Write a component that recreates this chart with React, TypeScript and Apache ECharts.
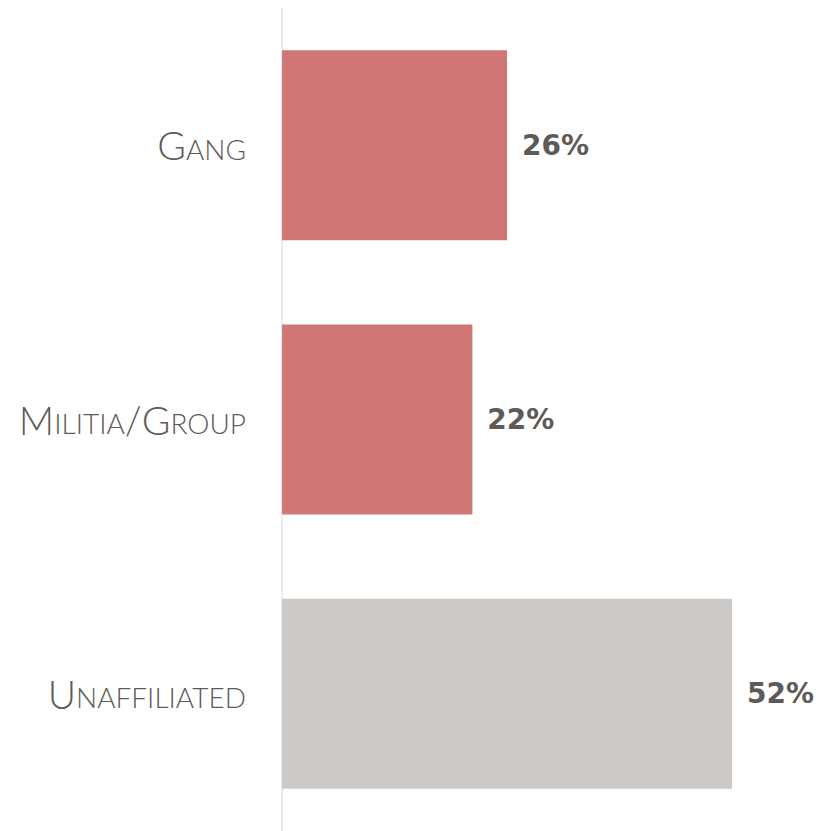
import React, { useEffect, useRef } from "react";
import * as echarts from "echarts";

const categories = ["Gang", "Militia/Group", "Unaffiliated"];
const values = [26, 22, 52];

const RED = "#d07674";
const GRAY = "#cdc9c6";
const TEXT = "#5f5a57";

function smallCaps(s: string): string {
  let out = "";
  let buf = "";
  const flush = () => {
    if (buf) {
      out += `{small|${buf}}`;
      buf = "";
    }
  };
  for (const ch of s) {
    if ((ch >= "A" && ch <= "Z") || ch === "/") {
      flush();
      out += `{big|${ch}}`;
    } else {
      buf += ch.toUpperCase();
    }
  }
  flush();
  return out;
}

export default function App() {
  const ref = useRef<HTMLDivElement>(null);
  useEffect(() => {
    if (!ref.current) return;
    const chart = echarts.init(ref.current, undefined, { renderer: "svg" });
    chart.setOption({
      animation: false,
      grid: { left: 282, top: 8, bottom: 0, width: 519.2, containLabel: false },
      xAxis: {
        type: "value",
        min: 0,
        max: 60,
        show: false,
      },
      yAxis: {
        type: "category",
        data: categories,
        inverse: true,
        offset: 1,
        axisLine: { show: true, lineStyle: { color: "#ebebeb", width: 2 } },
        axisTick: { show: false },
        axisLabel: {
          margin: 35,
          formatter: (v: string) => smallCaps(v),
          rich: {
            big: {
              fontFamily: "Lato",
              fontWeight: 300,
              fontSize: 39,
              lineHeight: 39,
              color: TEXT,
              verticalAlign: "bottom",
            },
            small: {
              fontFamily: "Lato",
              fontWeight: 300,
              fontSize: 28,
              lineHeight: 28,
              color: TEXT,
              verticalAlign: "bottom",
              padding: [0, 0, 2, 0],
            },
          },
        },
      },
      series: [
        {
          type: "bar",
          data: values,
          barWidth: 190,
          itemStyle: {
            color: (p: any) => (p.name === "Unaffiliated" ? GRAY : RED),
          },
          label: {
            show: true,
            position: "right",
            distance: 15,
            formatter: "{c}%",
            fontFamily: "DejaVu Sans",
            fontWeight: "bold",
            fontSize: 28,
            color: TEXT,
          },
        },
      ],
    });
    return () => chart.dispose();
  }, []);
  return (
    <div
      ref={ref}
      style={{ position: "absolute", left: 0, top: 0, width: 820, height: 831 }}
    />
  );
}
